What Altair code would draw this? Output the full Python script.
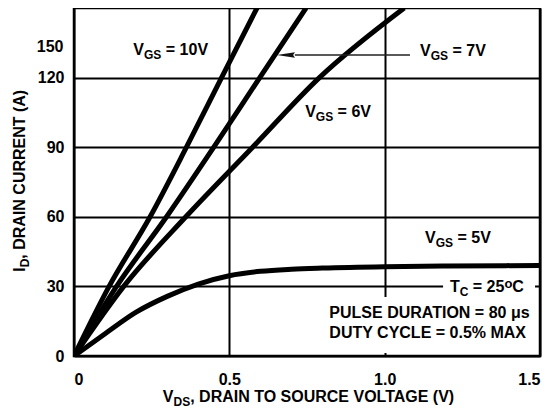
import altair as alt
import pandas as pd

# ---------------- data ----------------
id_levels = [0, 30, 60, 90, 120, 150]
vds_10v = [0, 0.113, 0.245, 0.362, 0.475, 0.589]
vds_7v = [0, 0.137, 0.298, 0.450, 0.598, 0.747]
vds_6v = [0, 0.160, 0.360, 0.575, 0.790, 1.063]
vds_5v = [0, 0.1, 0.2, 0.3, 0.4, 0.5, 0.6, 0.7, 0.8, 1.0, 1.2, 1.5]
id_5v = [0, 9.6, 18.9, 25.7, 31.0, 34.6, 36.5, 37.4, 37.9, 38.5, 38.8, 39.0]

x_ticks = [0, 0.5, 1.0, 1.5]
y_ticks = [0, 30, 60, 90, 120]
extra_y_label = "150"

FONT = "Liberation Sans"
W, H = 466, 348
X_DOM, Y_DOM = [0, 1.5], [0, 150]
PX_X = (X_DOM[1] - X_DOM[0]) / W
PX_Y = (Y_DOM[1] - Y_DOM[0]) / H

rows = []
for name, xs_, ys_ in [("10V", vds_10v, id_levels), ("7V", vds_7v, id_levels),
                       ("6V", vds_6v, id_levels), ("5V", vds_5v, id_5v)]:
    for k, (a, b) in enumerate(zip(xs_, ys_)):
        rows.append({"s": name, "v": a, "i": b, "o": k})
curves = pd.DataFrame(rows)

xs = alt.Scale(domain=X_DOM, nice=False, zero=False)
ys = alt.Scale(domain=Y_DOM, nice=False, zero=False)

# approximate Arial Bold advance widths (em)
AW = {' ': .278, '=': .584, ',': .278, '.': .278, '%': .889, '(': .333, ')': .333,
      'o': .611, 's': .556, 'μ': .576}
for c in "0123456789":
    AW[c] = .556
AW.update({'A': .722, 'B': .722, 'C': .722, 'D': .722, 'E': .667, 'F': .611, 'G': .778,
           'H': .722, 'I': .278, 'K': .722, 'L': .611, 'M': .833, 'N': .722, 'O': .778,
           'P': .667, 'R': .722, 'S': .667, 'T': .611, 'U': .722, 'V': .667, 'X': .667,
           'Y': .667})
SIZES = {"m": 16, "s": 12, "p": 13}


def tw(s, size):
    return sum(AW.get(c, .6) for c in s) * size


labels = [
    (0.191, 129.7, [("V", "m"), ("GS", "s"), (" = 10V", "m")]),
    (1.114, 129.3, [("V", "m"), ("GS", "s"), (" = 7V", "m")]),
    (0.744, 103.2, [("V", "m"), ("GS", "s"), (" = 6V", "m")]),
    (1.130, 48.6, [("V", "m"), ("GS", "s"), (" = 5V", "m")]),
    (1.210, 27.7, [("T", "m"), ("C", "s"), (" = 25", "m"), ("o", "p"), ("C", "m")]),
    (0.822, 16.2, [("PULSE DURATION = 80 μs", "m")]),
    (0.822, 7.6, [("DUTY CYCLE = 0.5% MAX", "m")]),
    (0.286, -20.0, [("V", "m"), ("DS", "s"), (", DRAIN TO SOURCE VOLTAGE (V)", "m")]),
]
ytitle = (-0.159, 36.3, [("I", "m"), ("D", "s"), (", DRAIN CURRENT (A)", "m")])

trows = []
for x0, y0, pieces in labels:
    off = 0.0
    for t, kind in pieces:
        size = SIZES[kind]
        lead = len(t) - len(t.lstrip(" "))
        off += tw(" " * lead, size)
        t2 = t.lstrip(" ")
        trows.append({"x": x0 + off * PX_X, "y": y0, "t": t2, "k": kind})
        off += tw(t2, size)
tdf = pd.DataFrame(trows)

rrows = []
x0, y0, pieces = ytitle
off = 0.0
for t, kind in pieces:
    size = SIZES[kind]
    rrows.append({"x": x0, "y": y0 + off * PX_Y, "t": t, "k": kind})
    off += tw(t, size)
rdf = pd.DataFrame(rrows)

boxes = pd.DataFrame({"x": [1.188, 0.808], "x2": [1.484, 1.484],
                      "y": [25.4, 1.3], "y2": [34.5, 25.4]})
arrow_line = pd.DataFrame({"x": [0.711], "x2": [1.0815], "y": [129.74]})
arrow_head = pd.DataFrame({"x": [0.682], "y": [129.74]})
lab150 = pd.DataFrame({"x": [-0.034], "y": [133.3], "t": [extra_y_label]})

base_axes = alt.Chart(curves).mark_rect(opacity=0).encode(
    x=alt.X("v:Q", scale=xs, axis=alt.Axis(
        values=x_ticks, title=None, grid=True, ticks=False, tickSize=0, domain=False,
        labelPadding=15, labelBaseline="top",
        labelExpr="datum.value == 0 ? '0' : format(datum.value, '.1f')")),
    y=alt.Y("i:Q", scale=ys, axis=alt.Axis(
        values=y_ticks, title=None, grid=True, ticks=False, tickSize=0, domain=False,
        labelPadding=10)),
)

rects = alt.Chart(boxes).mark_rect(fill="white", stroke=None).encode(
    x=alt.X("x:Q", scale=xs), x2="x2:Q", y=alt.Y("y:Q", scale=ys), y2="y2:Q")

lines = alt.Chart(curves).mark_line(
    color="black", strokeWidth=5, interpolate="monotone", clip=True, strokeCap="butt"
).encode(
    x=alt.X("v:Q", scale=xs), y=alt.Y("i:Q", scale=ys), detail="s:N", order="o:Q")

arr_l = alt.Chart(arrow_line).mark_rule(color="#222", strokeWidth=1.3).encode(
    x=alt.X("x:Q", scale=xs), x2="x2:Q", y=alt.Y("y:Q", scale=ys))
arr_h = alt.Chart(arrow_head).mark_point(
    shape="M-1,0L1,-0.3L0.8,0L1,0.3Z", filled=True, size=330, color="#111", opacity=1
).encode(x=alt.X("x:Q", scale=xs), y=alt.Y("y:Q", scale=ys))


def tlayer(kind, dy, angle=None, df=None):
    kw = dict(align="left", baseline="alphabetic", font=FONT, fontWeight="bold",
              fontSize=SIZES[kind], color="black", dy=dy)
    if angle is not None:
        kw["angle"] = angle
    return alt.Chart(df).transform_filter(alt.datum.k == kind).mark_text(**kw).encode(
        x=alt.X("x:Q", scale=xs), y=alt.Y("y:Q", scale=ys), text="t:N")


texts = [tlayer("m", 0, df=tdf), tlayer("s", 4, df=tdf), tlayer("p", -4, df=tdf),
         tlayer("m", 0, 270, df=rdf), tlayer("s", 4, 270, df=rdf)]

t150 = alt.Chart(lab150).mark_text(
    align="right", baseline="middle", font=FONT, fontWeight="bold", fontSize=16,
    color="black").encode(x=alt.X("x:Q", scale=xs), y=alt.Y("y:Q", scale=ys), text="t:N")

chart = alt.layer(base_axes, rects, lines, arr_l, arr_h, *texts, t150).properties(
    width=W, height=H,
    background="white",
    autosize=alt.AutoSizeParams(type="none"),
    padding={"left": 66, "top": 0, "right": 12, "bottom": 56},
).configure_view(stroke="black", strokeWidth=2.5).configure_axis(
    gridColor="black", gridWidth=2, gridOpacity=1,
    labelFont=FONT, labelFontSize=16, labelFontWeight="bold", labelColor="black",
)

chart.save("out.html", embed_options={"renderer": "svg", "actions": False})
